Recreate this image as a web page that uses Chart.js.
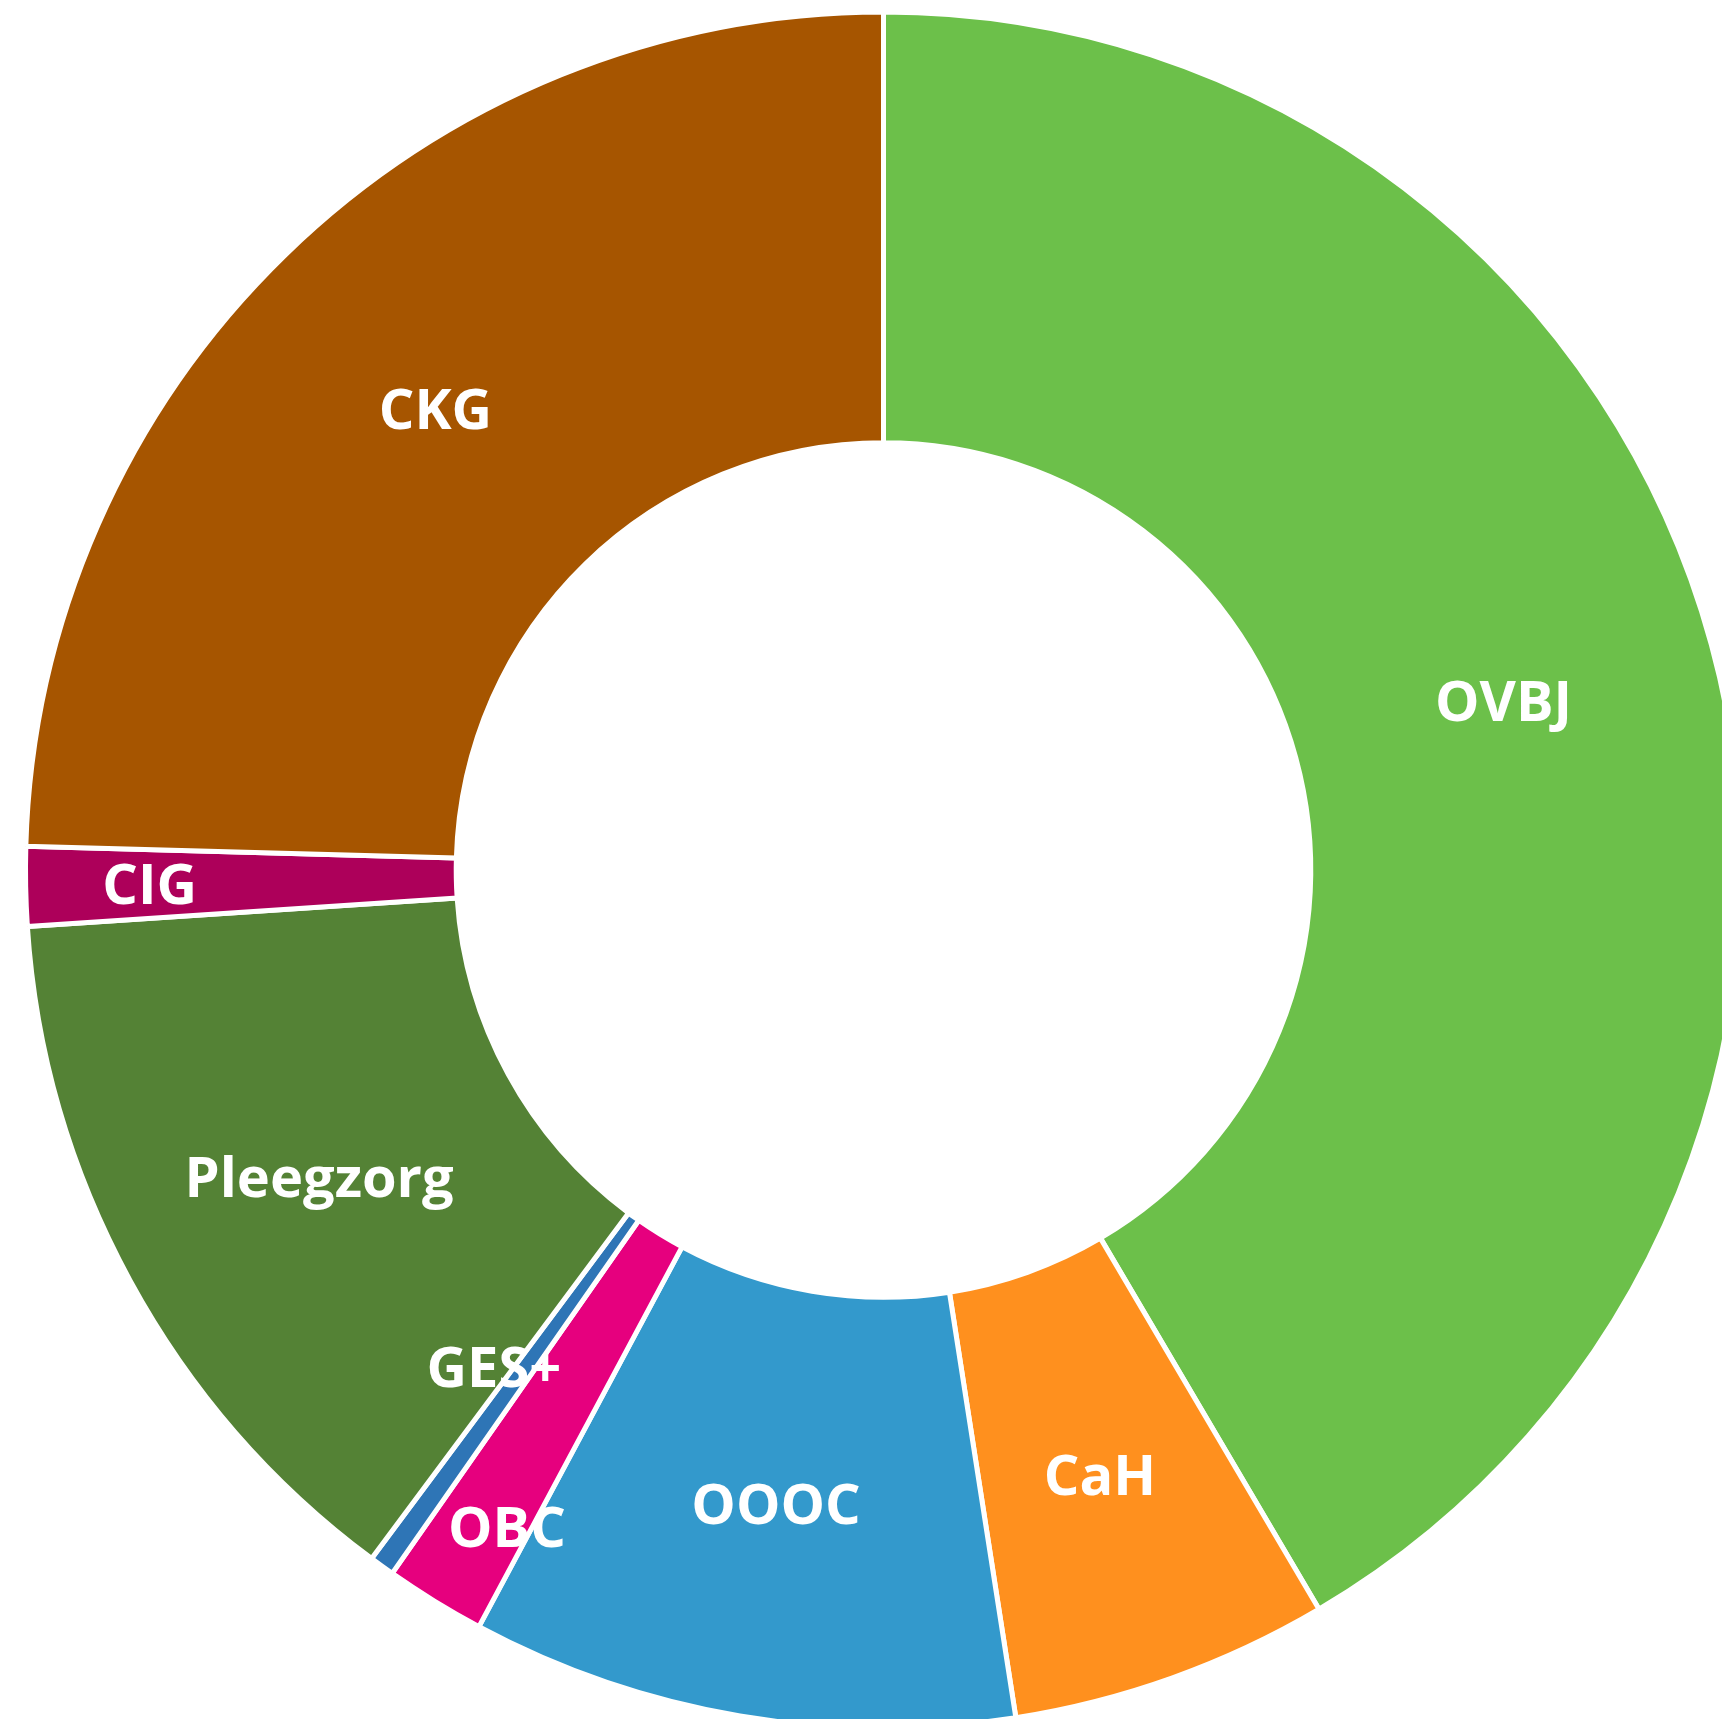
<!DOCTYPE html>
<html>
<head>
<meta charset="utf-8">
<script src="https://cdn.jsdelivr.net/npm/chart.js@4/dist/chart.umd.min.js"></script>
<style>
  html, body { margin: 0; padding: 0; background: #fff; overflow: hidden; width: 1722px; height: 1719px; }
  #wrap { position: absolute; left: 0; top: 0; width: 1767px; height: 1740px; }
</style>
</head>
<body>
<div id="wrap"><canvas id="c"></canvas></div>
<script>
const categories = ['OVBJ', 'CaH', 'OOOC', 'OBC', 'GES+', 'Pleegzorg', 'CIG', 'CKG'];
const values = [41.53, 6.01, 10.28, 1.89, 0.47, 13.78, 1.49, 24.56];
const colors = ['#6CC04A', '#FF901E', '#3399CC', '#E6007E', '#2E75B6', '#548235', '#AD005A', '#A65500'];
// label placement tweaks: radial factor (relative to ring middle) and angle shift in degrees
const labelRadial = [1, 1, 1, 1.178, 0.983, 1, 1.142, 1];
const labelAngleShift = [0, 0, 0, -1.7, 2.3, 0, 0, 0];

const labelPlugin = {
  id: 'sliceLabels',
  afterDatasetsDraw(chart) {
    const ctx = chart.ctx;
    const meta = chart.getDatasetMeta(0);
    const size = 56;
    ctx.save();
    ctx.font = 'bold ' + size + 'px "Open Sans"';
    ctx.fillStyle = '#ffffff';
    ctx.textAlign = 'center';
    ctx.textBaseline = 'alphabetic';
    meta.data.forEach((arc, i) => {
      const p = arc.getProps(['x', 'y', 'startAngle', 'endAngle', 'innerRadius', 'outerRadius'], true);
      const mid = (p.startAngle + p.endAngle) / 2 + labelAngleShift[i] * Math.PI / 180;
      const r = (p.innerRadius + p.outerRadius) / 2 * labelRadial[i];
      const x = p.x + Math.cos(mid) * r;
      const y = p.y + Math.sin(mid) * r;
      ctx.fillText(categories[i], x, y + 0.714 * size / 2);
    });
    ctx.restore();
  }
};

new Chart(document.getElementById('c'), {
  type: 'doughnut',
  data: {
    labels: categories,
    datasets: [{
      data: values,
      backgroundColor: colors,
      borderColor: '#ffffff',
      borderWidth: 5,
      hoverOffset: 0
    }]
  },
  options: {
    responsive: true,
    maintainAspectRatio: false,
    animation: false,
    radius: 858,
    cutout: '49.8%',
    layout: { padding: 0 },
    plugins: {
      legend: { display: false },
      tooltip: { enabled: false }
    },
    events: []
  },
  plugins: [labelPlugin]
});
</script>
</body>
</html>
